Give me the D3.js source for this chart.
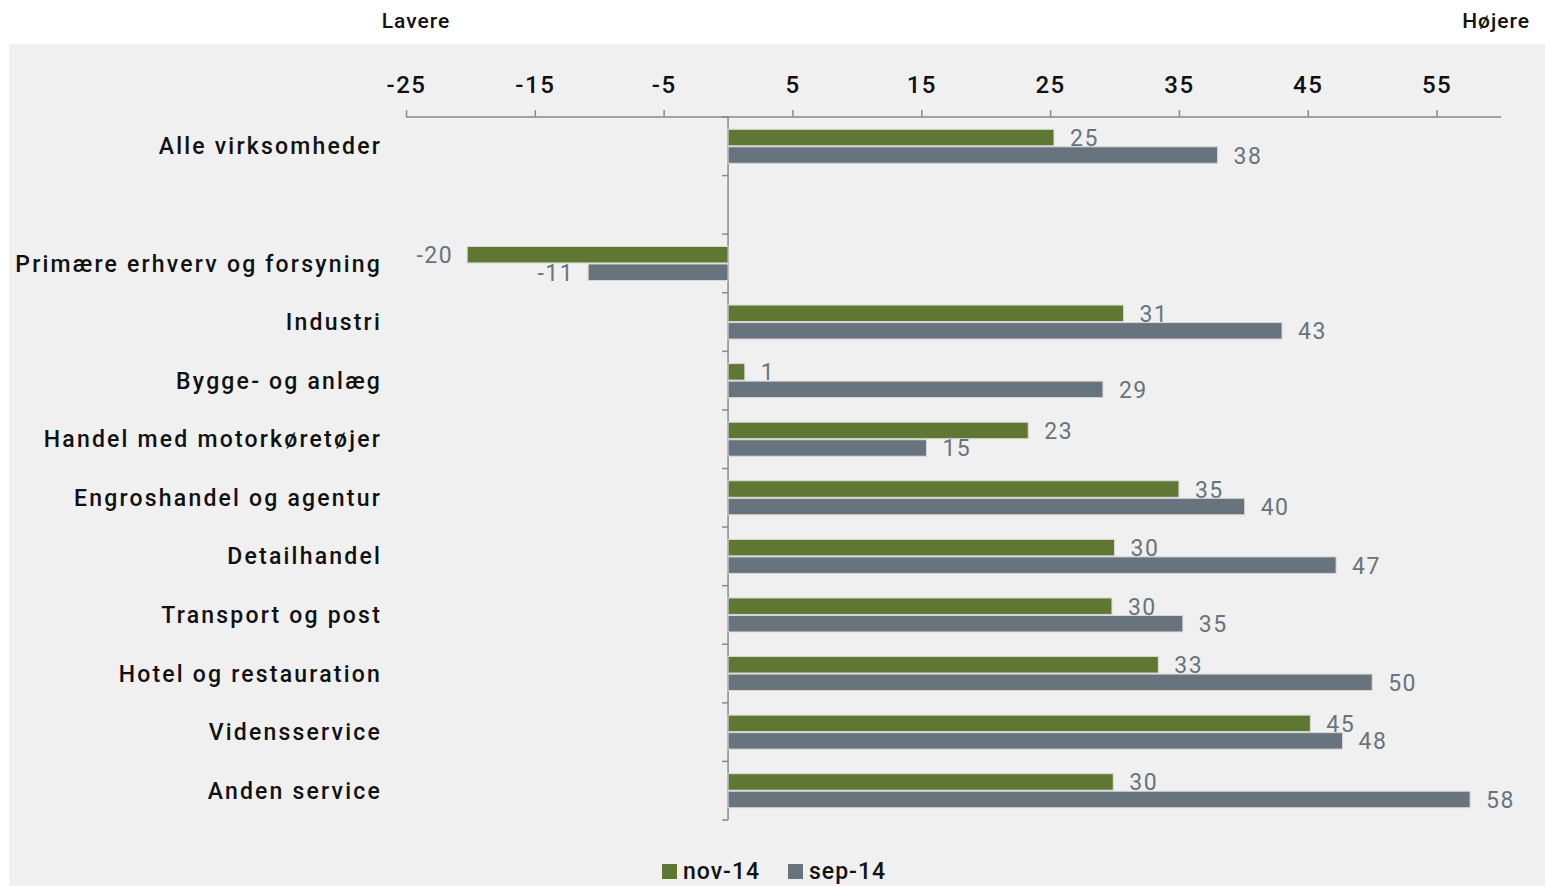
<!DOCTYPE html>
<html>
<head>
<meta charset="utf-8">
<script src="https://cdn.jsdelivr.net/npm/d3@7"></script>
<style>
    body { margin: 0; background: #fff; }
    svg { display: block; font-family: "Roboto", sans-serif; }
</style>
</head>
<body>
<svg></svg>
<script>
const categories = [
    "Alle virksomheder",
    "",
    "Primære erhverv og forsyning",
    "Industri",
    "Bygge- og anlæg",
    "Handel med motorkøretøjer",
    "Engroshandel og agentur",
    "Detailhandel",
    "Transport og post",
    "Hotel og restauration",
    "Vidensservice",
    "Anden service"
];
const nov14 = [25.3, null, -20.25, 30.7, 1.3, 23.3, 35.0, 30.0, 29.8, 33.4, 45.2, 29.9];
const sep14 = [38.0, null, -10.86, 43.0, 29.1, 15.4, 40.1, 47.2, 35.3, 50.0, 47.7, 57.6];
const seriesNames = ["nov-14", "sep-14"];
const xTicks = [-25, -15, -5, 5, 15, 25, 35, 45, 55];

const width = 1545,
    height = 886;
const colors = ["#5e7733", "#68747d"];

// plain hyphen as minus, like the original
const fmt = d3.formatLocale({ decimal: ",", thousands: ".", grouping: [3], currency: ["", ""], minus: "-" }).format(".0f");

const svg = d3.select("svg").attr("width", width).attr("height", height);

// grey panel
svg.append("rect")
    .attr("x", 9)
    .attr("y", 44)
    .attr("width", width - 9)
    .attr("height", height - 44)
    .attr("fill", "#f0f0f0");

svg.append("text")
    .attr("x", 416)
    .attr("y", 28)
    .attr("text-anchor", "middle")
    .attr("font-size", 21)
    .attr("font-weight", 500)
    .attr("letter-spacing", 1)
    .attr("fill", "#111")
    .text("Lavere");

svg.append("text")
    .attr("x", 1530)
    .attr("y", 28)
    .attr("text-anchor", "end")
    .attr("font-size", 21)
    .attr("font-weight", 500)
    .attr("letter-spacing", 1)
    .attr("fill", "#111")
    .text("Højere");

const xScale = d3.scaleLinear().domain([-25, 60]).range([406, 1501]);

const yScale = d3
    .scaleBand()
    .domain(d3.range(categories.length))
    .range([117, 820])
    .paddingInner(0.42)
    .paddingOuter(0.21);

const subScale = d3
    .scaleBand()
    .domain([0, 1])
    .range([0, yScale.bandwidth()])
    .paddingInner(0.06);

// x axis on top
const xAxis = d3.axisTop(xScale).tickValues(xTicks).tickSize(7).tickPadding(17).tickFormat(fmt);
const gx = svg.append("g")
    .attr("transform", "translate(0, 117)")
    .call(xAxis);
gx.select(".domain").attr("stroke", "#8a8a8a").attr("stroke-width", 1.5)
    .attr("d", "M406,0H1501");
gx.selectAll(".tick line").attr("stroke", "#8a8a8a").attr("stroke-width", 1.5);
gx.selectAll(".tick text")
    .attr("font-size", 24)
    .attr("font-weight", 500)
    .attr("letter-spacing", 1.5)
    .attr("font-family", "Roboto, sans-serif")
    .attr("fill", "#111");

// y axis at zero with ticks on band boundaries
const boundaries = d3.range(categories.length + 1).map((i) => 117 + i * (703 / categories.length));
const gy = svg.append("g");
gy.append("line")
    .attr("x1", xScale(0))
    .attr("x2", xScale(0))
    .attr("y1", 117)
    .attr("y2", 820)
    .attr("stroke", "#8a8a8a")
    .attr("stroke-width", 1.5);
gy.selectAll(".btick")
    .data(boundaries)
    .enter()
    .append("line")
    .attr("x1", xScale(0) - 6)
    .attr("x2", xScale(0))
    .attr("y1", (d) => d)
    .attr("y2", (d) => d)
    .attr("stroke", "#8a8a8a")
    .attr("stroke-width", 1.5);

// category labels
svg.selectAll(".cat")
    .data(categories)
    .enter()
    .append("text")
    .attr("x", 382)
    .attr("y", (d, i) => boundaries[i] + 703 / categories.length / 2)
    .attr("dy", "0.35em")
    .attr("text-anchor", "end")
    .attr("font-size", 23)
    .attr("font-weight", 500)
    .attr("letter-spacing", 2.2)
    .attr("fill", "#111")
    .text((d) => d);

// bars
const series = [nov14, sep14];
series.forEach((values, s) => {
    const rows = values
        .map((v, i) => ({ v: v, i: i }))
        .filter((d) => d.v !== null);

    svg.selectAll(".bar" + s)
        .data(rows)
        .enter()
        .append("rect")
        .attr("x", (d) => xScale(Math.min(0, d.v)))
        .attr("y", (d) => yScale(d.i) + subScale(s))
        .attr("width", (d) => Math.abs(xScale(d.v) - xScale(0)))
        .attr("height", subScale.bandwidth())
        .attr("fill", colors[s])
        .attr("stroke", "#d8d8d8")
        .attr("stroke-width", 1);

    svg.selectAll(".lab" + s)
        .data(rows)
        .enter()
        .append("text")
        .attr("x", (d) => (d.v < 0 ? xScale(d.v) - 14 : xScale(d.v) + 16))
        .attr("y", (d) => yScale(d.i) + subScale(s) + subScale.bandwidth() / 2)
        .attr("dy", "0.37em")
        .attr("text-anchor", (d) => (d.v < 0 ? "end" : "start"))
        .attr("font-size", 23)
        .attr("letter-spacing", 1.5)
        .attr("fill", "#68747d")
        .text((d) => fmt(d.v));
});

// legend
const legend = svg.append("g").attr("transform", "translate(662, 864)");
const legendX = [0, 126];
seriesNames.forEach((name, s) => {
    legend.append("rect")
        .attr("x", legendX[s])
        .attr("y", 0)
        .attr("width", 15)
        .attr("height", 15)
        .attr("fill", colors[s]);
    legend.append("text")
        .attr("x", legendX[s] + 21)
        .attr("y", 15)
        .attr("font-size", 23)
        .attr("font-weight", 500)
        .attr("letter-spacing", 1)
        .attr("fill", "#111")
        .text(name);
});
</script>
</body>
</html>
